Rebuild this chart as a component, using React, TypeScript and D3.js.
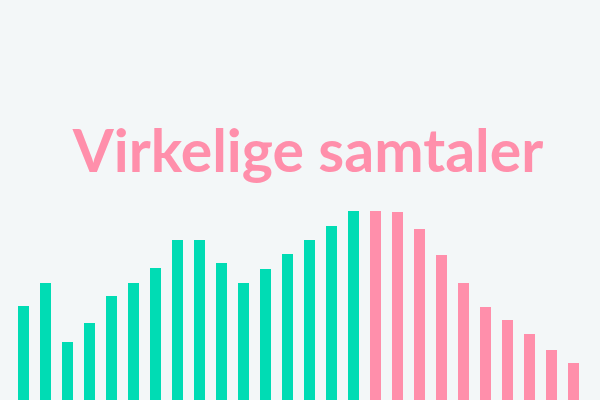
import React from "react";
import * as d3 from "d3";

const greenValues = [94, 117, 58, 77, 104, 117, 132, 160, 160, 137, 117, 131, 146, 160, 174, 189];
const pinkValues = [189, 188, 171, 145, 117, 93, 80, 66, 50, 37];
const title = "Virkelige samtaler";

const W = 600;
const H = 400;

export default function App() {
  const all = [
    ...greenValues.map((v) => ({ v, c: "#00dcb4" })),
    ...pinkValues.map((v) => ({ v, c: "#ff8fab" })),
  ];
  const x = d3
    .scaleBand<number>()
    .domain(all.map((_, i) => i))
    .range([12.5, 12.5 + 22 * all.length])
    .paddingInner(0.5)
    .paddingOuter(0.25);
  const y = d3.scaleLinear().domain([0, 200]).range([H, H - 200]);
  return (
    <div style={{ position: "fixed", left: 0, top: 0, width: W, height: H }}>
      <svg width={W} height={H} style={{ display: "block" }}>
        <rect width={W} height={H} fill="#f3f7f8" />
        <text
          x={308}
          y={172}
          textAnchor="middle"
          fontFamily="Lato"
          fontWeight={700}
          fontSize={59}
          fill="#ff8fab"
        >
          {title}
        </text>
        {all.map((d, i) => (
          <rect
            key={i}
            x={x(i)}
            y={y(d.v)}
            width={x.bandwidth()}
            height={H - y(d.v)}
            fill={d.c}
          />
        ))}
      </svg>
    </div>
  );
}
